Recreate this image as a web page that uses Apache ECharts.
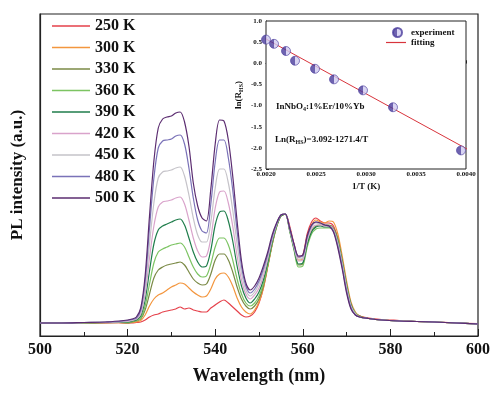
<!DOCTYPE html>
<html>
<head>
<meta charset="utf-8">
<script src="https://cdn.jsdelivr.net/npm/echarts@6/dist/echarts.min.js"></script>
<style>
  html, body { margin: 0; padding: 0; background: #fff; }
  #chart { width: 500px; height: 398px; }
</style>
</head>
<body>
<div id="chart"></div>
<script>
// wavelength grid (nm)
const wavelength = [500, 505, 510, 515, 518,
  520, 521, 522, 523, 524, 525, 526, 527, 528, 529, 530, 531, 532, 533, 534, 535, 536, 537, 538, 539,
  540, 541, 542, 543, 544, 545, 546, 547, 548, 549, 550, 551, 552, 553, 554, 555, 556, 557, 558, 559,
  560, 561, 562, 563, 564, 565, 566, 567, 568, 569, 570, 571, 572, 573,
  575, 578, 582, 586, 590, 595, 600];

const temps = ['250 K', '300 K', '330 K', '360 K', '390 K', '420 K', '450 K', '480 K', '500 K'];
const colors = ['#e5404a', '#f3963e', '#7b8a46', '#7cc462', '#1f7d4b', '#d9a3cb', '#c5c3c9', '#7a72b8', '#5b2c70'];

// PL intensity (a.u.)
const pl250 = [13, 13, 13, 13.2, 13.3,
  13, 13, 13.5, 14, 16, 19, 21, 22, 24, 25, 26, 27, 29, 27, 28, 26, 25, 24, 24, 28,
  31, 34, 36, 33, 29, 25, 21, 19, 20, 24, 33, 48, 70, 92, 110, 120, 122, 110, 92, 79,
  81, 102, 114, 118, 115, 113, 113, 110, 97, 75, 50, 31, 23, 20,
  18, 16.5, 15.5, 14.5, 14, 13, 12.5];
const pl300 = [13, 13, 13.1, 13.3, 13.4,
  13, 13.5, 14, 15.5, 21, 30, 37, 41, 43, 46, 49, 51, 53, 52, 48, 44, 41, 39, 40, 47,
  57, 62, 63, 59, 50, 38, 29, 24, 22, 26, 34, 48, 69, 91, 109, 120, 122, 107, 89, 76,
  77, 98, 111, 116, 114, 113, 115, 114, 102, 80, 55, 34, 24, 20,
  17.5, 16, 15, 14.5, 14, 13, 12];
const pl330 = [13, 13, 13.2, 13.4, 13.5,
  13, 14, 15, 17, 26, 42, 58, 66, 69, 71, 72, 73, 74, 71, 64, 57, 53, 51, 52, 62,
  76, 82, 82, 76, 64, 49, 37, 30, 27, 30, 37, 50, 70, 92, 109, 120, 122, 106, 87, 71,
  72, 92, 105, 110, 111, 111, 111, 108, 97, 76, 52, 32, 23, 20,
  17.5, 16, 15, 14.5, 14, 13, 12];
const pl360 = [13, 13, 13.2, 13.5, 13.6,
  13.5, 14.5, 15.5, 18, 30, 52, 73, 84, 87, 89, 91, 92, 93, 89, 79, 69, 62, 59, 60, 72,
  89, 98, 98, 91, 76, 57, 42, 33, 30, 33, 40, 52, 71, 92, 109, 120, 122, 105, 86, 69,
  70, 89, 102, 107, 108, 108, 108, 106, 95, 74, 50, 31, 23, 19,
  17.5, 16, 15, 14.5, 14, 13, 12];
const pl390 = [13, 13, 13.3, 13.6, 13.8,
  14, 15, 16, 20, 36, 65, 92, 106, 110, 112, 114, 116, 117, 111, 98, 84, 74, 69, 70, 86,
  111, 124, 125, 115, 95, 70, 50, 38, 33, 37, 44, 56, 74, 94, 110, 120, 122, 106, 88, 72,
  73, 92, 104, 109, 110, 109, 109, 106, 94, 73, 49, 31, 22, 19,
  17.5, 16, 15, 14.5, 14, 13, 12];
const pl420 = [13, 13, 13.3, 13.7, 14,
  14.5, 15.5, 17, 22, 42, 78, 110, 129, 134, 135, 136, 138, 139, 132, 116, 98, 85, 79, 80, 98,
  128, 144, 145, 133, 110, 80, 56, 42, 37, 41, 48, 60, 77, 96, 111, 121, 122, 107, 89, 75,
  76, 95, 107, 111, 111, 110, 110, 106, 93, 72, 48, 30, 22, 19,
  17.5, 16, 15, 14.5, 14, 13, 12];
const pl450 = [13, 13, 13.5, 13.8, 14.3,
  15, 16, 17.5, 24, 48, 92, 133, 158, 164, 165, 166, 168, 169, 160, 141, 118, 101, 94, 94, 114,
  148, 167, 167, 153, 126, 92, 63, 46, 40, 44, 52, 64, 80, 98, 112, 121, 122, 107, 90, 77,
  78, 97, 109, 113, 112, 111, 110, 106, 92, 71, 47, 29, 22, 19,
  17.5, 16, 15, 14.5, 14, 13, 12];
const pl480 = [13, 13, 13.5, 14, 14.5,
  15.5, 16.5, 18, 26, 55, 108, 158, 188, 195, 196, 197, 200, 201, 192, 168, 138, 116, 105, 103, 132,
  174, 196, 196, 178, 146, 105, 70, 50, 43, 47, 55, 67, 82, 99, 112, 121, 122, 108, 91, 79,
  80, 99, 110, 114, 113, 111, 110, 105, 90, 69, 45, 28, 21, 19,
  17.5, 16, 15, 14.5, 14, 13, 12];
const pl500 = [13, 13, 13.5, 14, 15,
  16, 17, 19, 28, 60, 120, 175, 208, 217, 219, 220, 223, 224, 214, 190, 153, 130, 118, 115, 147,
  192, 216, 215, 196, 160, 115, 75, 53, 46, 50, 58, 70, 84, 101, 113, 121, 122, 108, 92, 80,
  81, 100, 111, 114, 113, 111, 110, 104, 88, 67, 43, 27, 21, 19,
  17.5, 16, 15, 14.5, 14, 13, 12];
const plData = [pl250, pl300, pl330, pl360, pl390, pl420, pl450, pl480, pl500];

// inset: ln(R_HS) vs 1/T
const invT = [0.00200, 0.00208, 0.00220, 0.00229, 0.00249, 0.00268, 0.00297, 0.00327, 0.00395];
const lnR = [0.56, 0.46, 0.29, 0.06, -0.13, -0.38, -0.64, -1.04, -2.06];
const fitX = [0.00198, 0.00402];
const fitY = [0.60, -2.04];

const serif = 'Liberation Serif';
const chart = echarts.init(document.getElementById('chart'));

const mainSeries = temps.map((name, i) => ({
  name: name,
  type: 'line',
  xAxisIndex: 0,
  yAxisIndex: 0,
  data: wavelength.map((w, j) => [w, plData[i][j]]),
  smooth: 0.3,
  symbol: 'none',
  lineStyle: { color: colors[i], width: 1.2 },
  itemStyle: { color: colors[i] },
  z: 2 + i
}));

const insetLegendText = { fontFamily: serif, fontWeight: 'bold', fontSize: 9, color: '#111' };

const option = {
  animation: false,
  backgroundColor: '#fff',
  grid: [
    { left: 40, right: 22, top: 14, bottom: 62, show: true, borderColor: '#222', borderWidth: 1.2 },
    { left: 266, right: 34, top: 21, bottom: 229, show: true, borderColor: '#222', borderWidth: 1, backgroundColor: '#fff', z: 5 }
  ],
  legend: [
    {
      data: temps.map(t => ({ name: t, icon: 'rect' })),
      orient: 'vertical',
      left: 47,
      top: 13,
      itemWidth: 38,
      itemHeight: 1.5,
      itemGap: 5.5,
      textStyle: { fontFamily: serif, fontWeight: 'bold', fontSize: 16, color: '#111', lineHeight: 16 }
    },
    {
      data: [{ name: 'experiment', icon: 'circle' }],
      left: 387,
      top: 22,
      itemWidth: 9,
      itemHeight: 9,
      textStyle: Object.assign({ padding: [0, 0, 0, 4] }, insetLegendText),
      z: 10
    },
    {
      data: [{ name: 'fitting', icon: 'rect' }],
      left: 381,
      top: 33,
      itemWidth: 20,
      itemHeight: 1.2,
      textStyle: insetLegendText,
      z: 10
    }
  ],
  xAxis: [
    {
      gridIndex: 0,
      type: 'value',
      min: 500,
      max: 600,
      interval: 20,
      name: 'Wavelength (nm)',
      nameLocation: 'middle',
      nameGap: 31,
      nameTextStyle: { fontFamily: serif, fontWeight: 'bold', fontSize: 18, color: '#111' },
      axisLine: { lineStyle: { color: '#222', width: 1.2 } },
      axisTick: { inside: true, length: 7, lineStyle: { color: '#222' } },
      minorTick: { show: true, splitNumber: 2, length: 4, lineStyle: { color: '#222' } },
      axisLabel: { fontFamily: serif, fontWeight: 'bold', fontSize: 16, color: '#111', margin: 6 },
      splitLine: { show: false }
    },
    {
      gridIndex: 1,
      type: 'value',
      min: 0.002,
      max: 0.004,
      interval: 0.0005,
      name: '1/T (K)',
      nameLocation: 'middle',
      nameGap: 13,
      nameTextStyle: { fontFamily: serif, fontWeight: 'bold', fontSize: 9, color: '#111' },
      axisLine: { lineStyle: { color: '#222', width: 1 } },
      axisTick: { inside: true, length: 3, lineStyle: { color: '#222' } },
      minorTick: { show: true, splitNumber: 2, length: 2, lineStyle: { color: '#222' } },
      axisLabel: {
        fontFamily: serif, fontWeight: 'bold', fontSize: 7, color: '#111', margin: 2,
        formatter: v => v.toFixed(4)
      },
      splitLine: { show: false }
    }
  ],
  yAxis: [
    {
      gridIndex: 0,
      type: 'value',
      min: 0,
      max: 322,
      name: 'PL intensity (a.u.)',
      nameLocation: 'middle',
      nameGap: 14,
      nameTextStyle: { fontFamily: serif, fontWeight: 'bold', fontSize: 17, color: '#111' },
      axisLine: { lineStyle: { color: '#222', width: 1.2 } },
      axisTick: { show: false },
      axisLabel: { show: false },
      splitLine: { show: false }
    },
    {
      gridIndex: 1,
      type: 'value',
      min: -2.5,
      max: 1.0,
      interval: 0.5,
      name: '{a|ln(R}{b|HS}{a|)}',
      nameLocation: 'middle',
      nameGap: 22,
      nameTextStyle: {
        rich: {
          a: { fontFamily: serif, fontWeight: 'bold', fontSize: 9, color: '#111' },
          b: { fontFamily: serif, fontWeight: 'bold', fontSize: 6, color: '#111', verticalAlign: 'bottom', padding: [4, 0, 0, 0] }
        }
      },
      axisLine: { lineStyle: { color: '#222', width: 1 } },
      axisTick: { inside: true, length: 3, lineStyle: { color: '#222' } },
      minorTick: { show: true, splitNumber: 2, length: 2, lineStyle: { color: '#222' } },
      axisLabel: {
        fontFamily: serif, fontWeight: 'bold', fontSize: 7, color: '#111', margin: 4,
        formatter: v => v.toFixed(1)
      },
      splitLine: { show: false }
    }
  ],
  graphic: [
    {
      type: 'text',
      left: 276,
      top: 102,
      z: 20,
      style: {
        text: '{a|InNbO}{b|4}{a|:1%Er/10%Yb}',
        rich: {
          a: { fontFamily: serif, fontWeight: 'bold', fontSize: 9, fill: '#111' },
          b: { fontFamily: serif, fontWeight: 'bold', fontSize: 6, fill: '#111', padding: [5, 0, 0, 0] }
        }
      }
    },
    {
      type: 'text',
      left: 275,
      top: 135,
      z: 20,
      style: {
        text: '{a|Ln(R}{b|HS}{a|)=3.092-1271.4/T}',
        rich: {
          a: { fontFamily: serif, fontWeight: 'bold', fontSize: 9, fill: '#111' },
          b: { fontFamily: serif, fontWeight: 'bold', fontSize: 6, fill: '#111', padding: [5, 0, 0, 0] }
        }
      }
    }
  ],
  series: mainSeries.concat([
    {
      name: 'fitting',
      type: 'line',
      xAxisIndex: 1,
      yAxisIndex: 1,
      data: fitX.map((x, i) => [x, fitY[i]]),
      symbol: 'none',
      lineStyle: { color: '#d8343c', width: 1 },
      itemStyle: { color: '#d8343c' },
      z: 12
    },
    {
      name: 'experiment',
      type: 'scatter',
      xAxisIndex: 1,
      yAxisIndex: 1,
      data: invT.map((x, i) => [x, lnR[i]]),
      symbol: 'circle',
      symbolSize: 9,
      itemStyle: {
        color: {
          type: 'linear', x: 0, y: 0, x2: 1, y2: 0,
          colorStops: [
            { offset: 0, color: '#4a3c9c' },
            { offset: 0.5, color: '#4a3c9c' },
            { offset: 0.5, color: '#cfcaf0' },
            { offset: 1, color: '#cfcaf0' }
          ]
        },
        borderColor: '#4a3c9c',
        borderWidth: 0.8
      },
      z: 13
    }
  ])
};

chart.setOption(option);
</script>
</body>
</html>
